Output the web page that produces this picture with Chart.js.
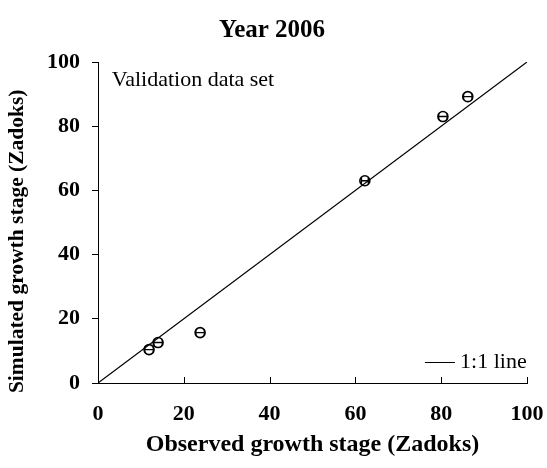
<!DOCTYPE html>
<html><head><meta charset="utf-8">
<script src="https://cdn.jsdelivr.net/npm/chart.js@4"></script>
<style>html,body{margin:0;padding:0;background:#fff}#w{width:547px;height:468px}</style>
</head><body><div id="w"><canvas id="c"></canvas></div>
<script>
const observed = [11.9, 14.0, 23.8, 62.2, 80.4, 86.2];
const simulated = [10.4, 12.6, 15.7, 63.0, 83.0, 89.2];
const obsErr = [1.0, 1.0, 1.0, 0.8, 1.0, 1.0];
const oneToOne = [0, 100];
const xTicks = [0, 20, 40, 60, 80, 100];
const yTicks = [0, 20, 40, 60, 80, 100];
const FONT = "'Liberation Serif', 'Times New Roman', serif";

const errPlugin = {
  id: 'err',
  afterDatasetsDraw(chart) {
    const ctx = chart.ctx, xs = chart.scales.x, ys = chart.scales.y;
    ctx.save();
    ctx.strokeStyle = '#000'; ctx.lineWidth = 1.4;
    observed.forEach((o, i) => {
      const y = ys.getPixelForValue(simulated[i]);
      const x1 = xs.getPixelForValue(o - obsErr[i]);
      const x2 = xs.getPixelForValue(o + obsErr[i]);
      ctx.beginPath();
      ctx.moveTo(x1, y); ctx.lineTo(x2, y);
      ctx.moveTo(x1, y - 3); ctx.lineTo(x1, y + 3);
      ctx.moveTo(x2, y - 3); ctx.lineTo(x2, y + 3);
      ctx.stroke();
    });
    // inward x ticks
    ctx.lineWidth = 1;
    const yb = chart.chartArea.bottom;
    xTicks.forEach(v => {
      const x = Math.round(xs.getPixelForValue(v)) + 0.5;
      ctx.beginPath(); ctx.moveTo(x, yb); ctx.lineTo(x, yb - 6); ctx.stroke();
    });
    // texts
    ctx.fillStyle = '#000';
    ctx.font = "22px " + FONT;
    ctx.textBaseline = 'middle';
    ctx.fillText('Validation data set', xs.getPixelForValue(3.2), ys.getPixelForValue(94.2));
    const ly = Math.round(ys.getPixelForValue(6.4));
    ctx.beginPath();
    ctx.moveTo(xs.getPixelForValue(76.2), ly + 0.5);
    ctx.lineTo(xs.getPixelForValue(83.2), ly + 0.5);
    ctx.stroke();
    ctx.fillText('1:1 line', xs.getPixelForValue(84.4), ly);
    ctx.restore();
  }
};

new Chart(document.getElementById('c'), {
  data: {
    datasets: [
      { type: 'line', data: oneToOne.map(v => ({x: v, y: v})), borderColor: '#000', borderWidth: 1.2, pointRadius: 0, fill: false },
      { type: 'scatter', data: observed.map((o, i) => ({x: o, y: simulated[i]})), pointRadius: 5, pointBackgroundColor: 'rgba(255,255,255,0)', pointBorderColor: '#000', pointBorderWidth: 1.6 }
    ]
  },
  options: {
    responsive: true, maintainAspectRatio: false, animation: false,
    layout: { padding: { left: 0, right: 3, top: 0, bottom: 0 } },
    plugins: {
      legend: { display: false }, tooltip: { enabled: false },
      title: { display: true, text: 'Year 2006', color: '#000', font: { family: FONT, size: 25, weight: 'bold' }, padding: { top: 16, bottom: 16 } }
    },
    scales: {
      x: {
        type: 'linear', min: 0, max: 100,
        afterBuildTicks: s => { s.ticks = xTicks.map(v => ({value: v})); },
        afterFit: s => { s.height = 85; s.paddingRight = 20; s.paddingLeft = 0; },
        grid: { drawOnChartArea: false, drawTicks: false },
        border: { color: '#000', width: 1 },
        ticks: { color: '#000', padding: 18, maxRotation: 0, font: { family: FONT, size: 22, weight: 'bold' } },
        title: { display: true, text: 'Observed growth stage (Zadoks)', color: '#000', font: { family: FONT, size: 24, weight: 'bold' }, padding: { top: 0, bottom: 9 } }
      },
      y: {
        type: 'linear', min: 0, max: 100,
        afterBuildTicks: s => { s.ticks = yTicks.map(v => ({value: v})); },
        afterFit: s => { s.width = 98; },
        grid: { drawOnChartArea: false, drawTicks: true, tickLength: 6, color: '#000' },
        border: { color: '#000', width: 1 },
        ticks: { color: '#000', padding: 12, font: { family: FONT, size: 22, weight: 'bold' } },
        title: { display: true, text: 'Simulated growth stage (Zadoks)\u00A0\u00A0\u00A0\u00A0\u00A0\u00A0\u00A0', color: '#000', font: { family: FONT, size: 21.5, weight: 'bold' }, padding: { top: 5, bottom: 0 } }
      }
    }
  },
  plugins: [errPlugin]
});
</script></body></html>
